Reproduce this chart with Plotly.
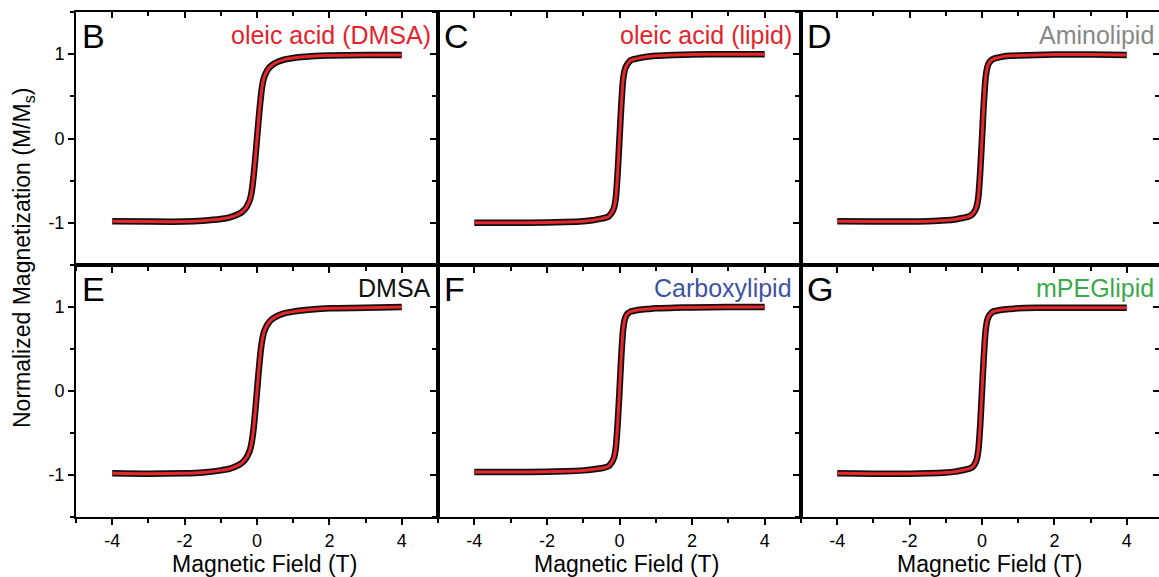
import plotly.graph_objects as go

# ---------------- data ----------------
field = [-4, -3, -2, -1.5, -1, -0.75, -0.5, -0.4, -0.3, -0.25, -0.2, -0.15, -0.1, -0.05,
         0, 0.05, 0.1, 0.15, 0.2, 0.25, 0.3, 0.4, 0.5, 0.75, 1, 1.5, 2, 3, 4]

m_B = [-0.98, -0.985, -0.985, -0.975, -0.955, -0.935, -0.895, -0.865, -0.82, -0.78, -0.73, -0.64, -0.47, -0.25,
       0, 0.25, 0.47, 0.64, 0.73, 0.78, 0.82, 0.865, 0.895, 0.935, 0.955, 0.975, 0.985, 0.99, 0.99]
m_C = [-1.0, -1.0, -0.995, -0.99, -0.98, -0.97, -0.95, -0.94, -0.925, -0.9, -0.87, -0.82, -0.7, -0.4,
       0, 0.4, 0.7, 0.82, 0.87, 0.9, 0.925, 0.94, 0.95, 0.97, 0.98, 0.99, 0.995, 1.0, 1.0]
m_D = [-0.98, -0.985, -0.985, -0.98, -0.97, -0.96, -0.94, -0.93, -0.91, -0.89, -0.86, -0.81, -0.69, -0.4,
       0, 0.42, 0.72, 0.85, 0.9, 0.925, 0.94, 0.955, 0.965, 0.98, 0.985, 0.99, 0.995, 0.995, 0.99]
m_E = [-0.98, -0.985, -0.98, -0.97, -0.945, -0.925, -0.88, -0.85, -0.8, -0.76, -0.71, -0.62, -0.47, -0.25,
       0, 0.25, 0.47, 0.62, 0.71, 0.76, 0.8, 0.85, 0.88, 0.925, 0.945, 0.97, 0.985, 0.99, 1.0]
m_F = [-0.965, -0.965, -0.96, -0.955, -0.945, -0.935, -0.92, -0.91, -0.895, -0.87, -0.84, -0.79, -0.67, -0.38,
       0, 0.42, 0.73, 0.86, 0.91, 0.93, 0.945, 0.955, 0.965, 0.975, 0.985, 0.99, 0.995, 1.0, 1.0]
m_G = [-0.98, -0.985, -0.985, -0.98, -0.97, -0.96, -0.94, -0.93, -0.915, -0.9, -0.87, -0.82, -0.7, -0.41,
       0, 0.41, 0.72, 0.85, 0.9, 0.925, 0.945, 0.955, 0.965, 0.975, 0.985, 0.99, 0.99, 0.99, 0.99]

panel_letters = ["B", "C", "D", "E", "F", "G"]
panel_labels = ["oleic acid (DMSA)", "oleic acid (lipid)", "Aminolipid",
                "DMSA", "Carboxylipid", "mPEGlipid"]
label_colors = ["#e5232b", "#e5232b", "#888888", "#111111", "#3c52a3", "#3aaa4a"]
panel_data = [m_B, m_C, m_D, m_E, m_F, m_G]

x_ticks = [-4, -2, 0, 2, 4]
x_ticktext = ["-4", "-2", "0", "2", "4"]
y_ticks = [-1, 0, 1]
y_ticktext = ["-1", "0", "1"]

# ---------------- layout geometry ----------------
W, H = 1159, 577
FONT = "Liberation Sans, Arial, sans-serif"
col_px = [(76, 438), (438, 801), (801, 1159)]
col_ranges = [[-5, 5], [-5, 5], [-5, -5 + 10 * (358 / 362)]]
row_px = [(12, 265), (265, 517)]

def px_x(p):
    return p / W

def px_y(p):
    return 1 - p / H

fig = go.Figure()
layout_axes = {}
annotations = []

for i, (letter, label, lc, m) in enumerate(zip(panel_letters, panel_labels, label_colors, panel_data)):
    n = i + 1
    row, col = divmod(i, 3)
    xs = "" if n == 1 else str(n)
    xa, ya = "x" + xs, "y" + xs
    xo, yo = "x" + str(n + 6), "y" + str(n + 6)

    fig.add_trace(go.Scatter(x=field, y=m, mode="lines", xaxis=xa, yaxis=ya,
                             line=dict(color="#111111", width=6.5, shape="spline", smoothing=0.6),
                             showlegend=False, hoverinfo="skip"))
    fig.add_trace(go.Scatter(x=field, y=m, mode="lines", xaxis=xa, yaxis=ya,
                             line=dict(color="#e8262b", width=3, shape="spline", smoothing=0.6),
                             showlegend=False, hoverinfo="skip"))
    fig.add_trace(go.Scatter(x=[None], y=[None], mode="lines", xaxis=xo, yaxis=yo,
                             showlegend=False, hoverinfo="skip"))

    xdom = [px_x(col_px[col][0]), px_x(col_px[col][1])]
    ydom = [px_y(row_px[row][1]), px_y(row_px[row][0])]
    common_tick = dict(tickcolor="black", tickwidth=2, showgrid=False, zeroline=False,
                       fixedrange=True, linecolor="black", linewidth=2)

    layout_axes["xaxis" + xs] = dict(
        domain=xdom, anchor=ya, range=col_ranges[col], showline=True,
        ticks="outside", ticklen=6, tickvals=x_ticks, ticktext=x_ticktext,
        minor=dict(dtick=1, tick0=0, ticks="outside", ticklen=4, tickwidth=2, tickcolor="black"),
        showticklabels=(row == 1), tickfont=dict(family=FONT, size=18, color="black"),
        **common_tick)
    layout_axes["yaxis" + xs] = dict(
        domain=ydom, anchor=xa, range=[-1.5, 1.5], showline=True,
        ticks="outside", ticklen=6, tickvals=y_ticks, ticktext=y_ticktext,
        minor=dict(dtick=0.5, tick0=0, ticks="outside", ticklen=4, tickwidth=2, tickcolor="black"),
        showticklabels=(col == 0), tickfont=dict(family=FONT, size=18, color="black"),
        **common_tick)
    layout_axes["xaxis" + str(n + 6)] = dict(
        overlaying=xa, side="top", anchor=ya, range=col_ranges[col], showline=True,
        ticks="inside", ticklen=6, tickvals=x_ticks,
        minor=dict(dtick=1, tick0=0, ticks="inside", ticklen=4, tickwidth=2, tickcolor="black"),
        showticklabels=False, **common_tick)
    layout_axes["yaxis" + str(n + 6)] = dict(
        overlaying=ya, side="right", anchor=xa, range=[-1.5, 1.5], showline=(col != 2),
        ticks="inside", ticklen=6, tickvals=y_ticks,
        minor=dict(dtick=0.5, tick0=0, ticks="inside", ticklen=4, tickwidth=2, tickcolor="black"),
        showticklabels=False, **common_tick)

    top = row_px[row][0]
    # panel letter
    annotations.append(dict(text=letter, xref="paper", yref="paper",
                            x=px_x(col_px[col][0] + 4), y=px_y(top + 24),
                            xanchor="left", yanchor="middle", showarrow=False,
                            font=dict(family=FONT, size=34, color="black")))
    # sample label
    right_px = [433, 794, 1156][col]
    annotations.append(dict(text=label, xref="paper", yref="paper",
                            x=px_x(right_px), y=px_y(top + 23),
                            xanchor="right", yanchor="middle", showarrow=False,
                            font=dict(family=FONT, size=25, color=lc)))
    # x-axis titles on the bottom row
    if row == 1:
        annotations.append(dict(text="Magnetic Field (T)", xref=xa, yref="paper",
                                x=0.2, y=px_y(564),
                                xanchor="center", yanchor="middle", showarrow=False,
                                font=dict(family=FONT, size=23, color="black")))

annotations.append(dict(text="Normalized Magnetization (M/M<sub>s</sub>)", xref="paper", yref="paper",
                        x=px_x(23), y=px_y(258), textangle=-90,
                        xanchor="center", yanchor="middle", showarrow=False,
                        font=dict(family=FONT, size=23, color="black")))

fig.update_layout(width=W, height=H, margin=dict(l=0, r=0, t=0, b=0),
                  paper_bgcolor="white", plot_bgcolor="white",
                  annotations=annotations, **layout_axes)

fig.write_html("out.html", config={"displayModeBar": False},
               post_script="document.body.style.margin='0';document.body.style.overflow='hidden';")
